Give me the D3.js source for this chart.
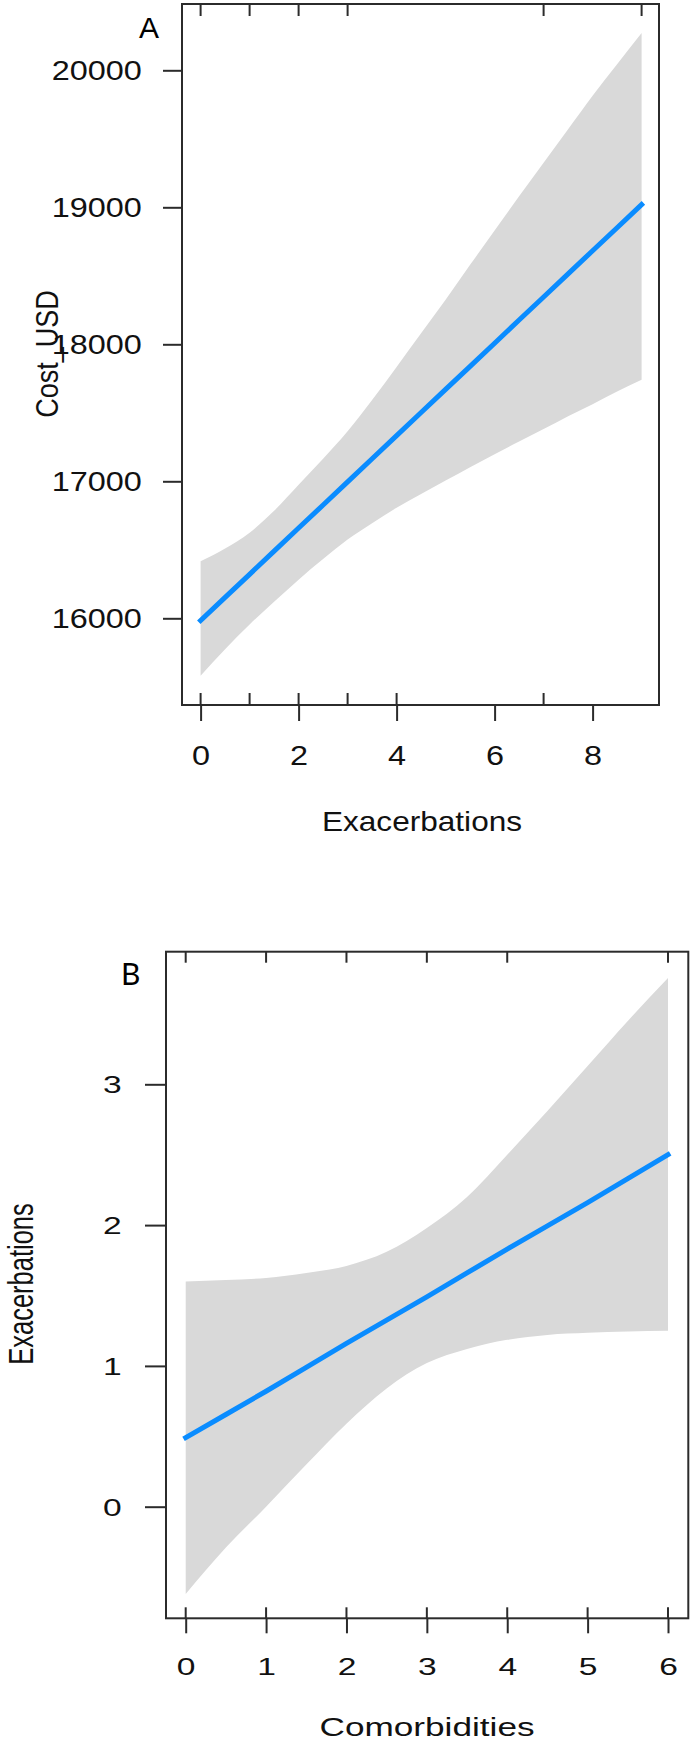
<!DOCTYPE html>
<html><head><meta charset="utf-8">
<script src="https://cdn.jsdelivr.net/npm/d3@7"></script>
<style>body{margin:0;background:#fff} svg{display:block}</style>
</head><body>
<svg id="c" width="693" height="1742"></svg>
<script>
// ---------- Panel A data: Cost_USD vs Exacerbations ----------
const gridA  = [0,0.5,1,1.5,2,2.5,3,3.5,4,4.5,5,5.5,6,6.5,7,7.5,8,8.5,9];
const fitA   = [15984,16153,16321,16490,16659,16827,16996,17165,17333,17502,17671,17839,18008,18177,18345,18514,18683,18851,19020];
const upperA = [16416,16510,16625,16785,16975,17165,17365,17594,17835,18080,18325,18580,18830,19080,19325,19570,19815,20045,20272];
const lowerA = [15581,15775,15955,16121,16282,16432,16575,16694,16807,16907,17005,17103,17198,17290,17381,17475,17563,17655,17741];
const xTicksA = [0,2,4,6,8];
const yTicksA = [16000,17000,18000,19000,20000];
const rugBottomA = [0,1,2,3,4,7];
const rugTopA = [0,1,2,3,7,9];

// ---------- Panel B data: Exacerbations vs Comorbidities ----------
const gridB  = [0,0.5,1,1.5,2,2.5,3,3.5,4,4.5,5,5.5,6];
const fitB   = [0.49,0.655,0.82,0.99,1.16,1.325,1.49,1.66,1.83,1.995,2.16,2.33,2.50];
const upperB = [1.60,1.61,1.625,1.66,1.71,1.81,1.98,2.20,2.50,2.81,3.13,3.45,3.755];
const lowerB = [-0.62,-0.29,0.0,0.30,0.59,0.84,1.02,1.12,1.185,1.22,1.235,1.245,1.25];
const xTicksB = [0,1,2,3,4,5,6];
const yTicksB = [0,1,2,3];
const rugBottomB = [0,1,2,3,4,5,6];
const rugTopB = [0,1,2,3,4,6];

const svg = d3.select('#c');
const FONT = "'Liberation Sans', Arial, Helvetica, sans-serif";
const AX = '#2b2b2b';

function panel(cfg){
  const {box, x, y, grid, fit, up, lo, xTicks, yTicks, rugB, rugT, st} = cfg;
  const g = svg.append('g');
  // confidence band
  g.append('path').datum(grid.map((d,i)=>[d, up[i], lo[i]]))
    .attr('fill','#d9d9d9')
    .attr('d', d3.area().x(d=>x(d[0])).y0(d=>y(d[2])).y1(d=>y(d[1])).curve(d3.curveMonotoneX));
  // fitted line
  g.append('path').datum(grid.map((d,i)=>[d, fit[i]]))
    .attr('fill','none').attr('stroke','#0a8cff').attr('stroke-width',5)
    .attr('stroke-linecap','square')
    .attr('d', d3.line().x(d=>x(d[0])).y(d=>y(d[1])));
  // box
  g.append('rect').attr('x',box.l).attr('y',box.t).attr('width',box.r-box.l).attr('height',box.b-box.t)
    .attr('fill','none').attr('stroke',AX).attr('stroke-width',2);
  // rugs
  g.selectAll('.rb').data(rugB).enter().append('line')
    .attr('x1',d=>x(d)).attr('x2',d=>x(d)).attr('y1',box.b).attr('y2',box.b-st.rug)
    .attr('stroke',AX).attr('stroke-width',2);
  g.selectAll('.rt').data(rugT).enter().append('line')
    .attr('x1',d=>x(d)).attr('x2',d=>x(d)).attr('y1',box.t).attr('y2',box.t+st.rug)
    .attr('stroke',AX).attr('stroke-width',2);
  // left axis
  const gy = g.append('g').attr('transform',`translate(${box.l},0)`)
    .call(d3.axisLeft(y).tickValues(yTicks).tickSize(st.yTick).tickSizeOuter(0).tickFormat(d3.format('d')));
  gy.select('.domain').remove();
  gy.selectAll('.tick line').attr('stroke',AX).attr('stroke-width',2);
  gy.selectAll('.tick text').attr('x',null).attr('dy',null).attr('fill','#111')
    .attr('text-anchor','end').style('font-family',FONT).style('font-size',st.tickSize+'px')
    .attr('transform',`translate(${st.yLabDx},${st.tickSize*0.358}) scale(${st.tickSx},1)`);
  // bottom axis
  const gx = g.append('g').attr('transform',`translate(0,${box.b})`)
    .call(d3.axisBottom(x).tickValues(xTicks).tickSize(st.xTick).tickSizeOuter(0).tickFormat(d3.format('d')));
  gx.select('.domain').remove();
  gx.selectAll('.tick line').attr('stroke',AX).attr('stroke-width',2);
  gx.selectAll('.tick text').attr('y',null).attr('dy',null).attr('fill','#111')
    .attr('text-anchor','middle').style('font-family',FONT).style('font-size',st.tickSize+'px')
    .attr('transform',`translate(0,${st.xLabDy}) scale(${st.tickSx},1)`);
  // titles
  g.append('text').text(cfg.xTitle).attr('text-anchor','middle').attr('fill','#111')
    .style('font-family',FONT).style('font-size',st.titleSize+'px')
    .attr('transform',`translate(${cfg.xTitlePos[0]},${cfg.xTitlePos[1]}) scale(${st.titleSx},1)`);
  g.append('text').text(cfg.yTitle).attr('text-anchor','middle').attr('fill','#111')
    .style('font-family',FONT).style('font-size',st.titleSize+'px')
    .attr('transform',`translate(${cfg.yTitlePos[0]},${cfg.yTitlePos[1]}) scale(${st.titleSx},1) rotate(-90)`);
  g.append('text').text(cfg.letter).attr('fill','#000')
    .style('font-family',cfg.letterFont).style('font-size','30px')
    .attr('x',cfg.letterPos[0]).attr('y',cfg.letterPos[1]);
}

panel({
  box:{l:182,t:4,r:659,b:705},
  x: d3.scaleLinear().domain([0,9]).range([200.6,641.6]),
  y: d3.scaleLinear().domain([16000,20000]).range([618.3,70.3]),
  grid:gridA, fit:fitA, up:upperA, lo:lowerA, xTicks:xTicksA, yTicks:yTicksA,
  rugB:rugBottomA, rugT:rugTopA,
  st:{rug:12, yTick:19, xTick:16, tickSize:27, tickSx:1.2, yLabDx:-40.3, xLabDy:60, titleSize:27, titleSx:1.17},
  xTitle:'Exacerbations', xTitlePos:[422,831],
  yTitle:'Cost_USD', yTitlePos:[58,354],
  letter:'A', letterPos:[139,38.3], letterFont:FONT
});

panel({
  box:{l:166,t:951.7,r:688.3,b:1618.3},
  x: d3.scaleLinear().domain([0,6]).range([185.7,668]),
  y: d3.scaleLinear().domain([0,3]).range([1506.7,1084.3]),
  grid:gridB, fit:fitB, up:upperB, lo:lowerB, xTicks:xTicksB, yTicks:yTicksB,
  rugB:rugBottomB, rugT:rugTopB,
  st:{rug:11, yTick:21, xTick:15, tickSize:24, tickSx:1.4, yLabDx:-44.3, xLabDy:57, titleSize:25.5, titleSx:1.38},
  xTitle:'Comorbidities', xTitlePos:[427,1735.5],
  yTitle:'Exacerbations', yTitlePos:[33,1284],
  letter:'B', letterPos:[121,985], letterFont:"Lato, 'Open Sans', sans-serif"
});
</script>
</body></html>
